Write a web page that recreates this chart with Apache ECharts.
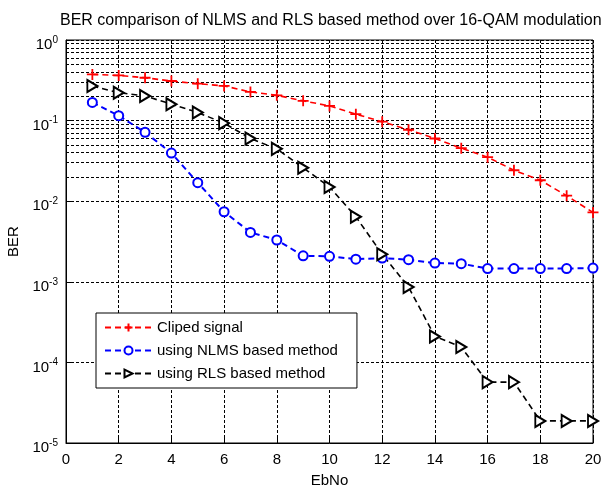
<!DOCTYPE html>
<html><head><meta charset="utf-8">
<script src="https://cdn.jsdelivr.net/npm/echarts@6/dist/echarts.min.js"></script>
<style>html,body{margin:0;padding:0;background:#fff}#c{width:604px;height:488px}</style>
</head><body><div id="c"></div>
<script>
const ebno = [1,2,3,4,5,6,7,8,9,10,11,12,13,14,15,16,17,18,19,20];
const clipped = [0.374,0.363,0.34,0.31,0.287,0.269,0.227,0.206,0.176,0.152,0.12,0.097,0.077,0.060,0.0455,0.0352,0.0242,0.0182,0.0117,0.00726];
const nlms = [0.168,0.115,0.0716,0.0395,0.017,0.0074,0.0041,0.0033,0.0021,0.00207,0.00191,0.00197,0.00188,0.00171,0.00168,0.00146,0.00146,0.00146,0.00146,0.00148];
const rls = [0.269,0.222,0.202,0.16,0.126,0.093,0.060,0.0446,0.026,0.015,0.0064,0.0022,0.00086,0.00021,0.000155,0.0000569,0.0000569,0.0000188,0.0000188,0.0000188];
const seriesNames = ['Cliped signal','using NLMS based method','using RLS based method'];
const xTicks = [0,2,4,6,8,10,12,14,16,18,20];
const yExps = [0,-1,-2,-3,-4,-5];

const minorVals = [];
for (let e = -5; e < 0; e++) for (let m = 2; m <= 9; m++) minorVals.push(m * Math.pow(10, e));

const font = 'Arial, "Liberation Sans", sans-serif';
const clear = 'rgba(0,0,0,0)';
const gridLine = {color:'#000', width:1, type:[3,2]};
const chart = echarts.init(document.getElementById('c'));
const mk = (name, data, color, symbol, size, extra) => Object.assign({
  name, type:'line', data: ebno.map((x,i)=>[x,data[i]]),
  symbol, symbolSize:size, showSymbol:true,
  lineStyle:{color, width:1.6, type:[6,4]},
  itemStyle:{color:clear, borderColor:color, borderWidth:1.8},
  emphasis:{disabled:true}, z:5
}, extra||{});
chart.setOption({
  animation:false,
  title:{text:'BER comparison of NLMS and RLS based method over 16-QAM modulation', left:55, top:8,
    textStyle:{fontFamily:font, fontSize:16, fontWeight:'normal', color:'#000'}},
  grid:{left:66, right:11, top:40, bottom:45, outerBoundsMode:'none', containLabel:false,
    show:true, borderColor:'#000', borderWidth:1, backgroundColor:'#fff'},
  legend:{orient:'vertical', left:96, top:313, backgroundColor:'#fff', borderColor:'#000', borderWidth:1,
    data:seriesNames,
    padding:[7,19,7,8], itemGap:8, itemWidth:47, itemHeight:10,
    textStyle:{fontFamily:font, fontSize:15, color:'#000'}},
  xAxis:{type:'value', min:0, max:20, interval:2, name:'EbNo', nameLocation:'middle', nameGap:30,
    nameTextStyle:{fontFamily:font, fontSize:15, color:'#000'},
    axisLine:{lineStyle:{color:'#000'}}, axisTick:{inside:true, length:5, lineStyle:{color:'#000'}},
    axisLabel:{fontFamily:font, fontSize:15, color:'#000', margin:9, formatter:v=>xTicks.includes(v)?String(v):''},
    splitLine:{show:true, lineStyle:gridLine}},
  yAxis:{type:'log', logBase:10, min:1e-5, max:1, name:'BER', nameLocation:'middle', nameGap:42,
    nameTextStyle:{fontFamily:font, fontSize:15, color:'#000'},
    axisLine:{lineStyle:{color:'#000'}}, axisTick:{inside:true, length:5, lineStyle:{color:'#000'}},
    axisLabel:{fontFamily:font, fontSize:15, color:'#000', margin:8, padding:[10,0,0,0],
      formatter:v=>{const e=Math.round(Math.log10(v)); return yExps.includes(e)?'10{s|'+e+'}':'';},
      rich:{s:{fontSize:10, verticalAlign:'bottom', padding:[0,0,10,0], fontFamily:font, color:'#000'}}},
    splitLine:{show:true, lineStyle:gridLine}},
  series:[
    mk(seriesNames[0], clipped, '#ff0000', 'path://M5,0L5,10M0,5L10,5', 11, {
      markLine:{silent:true, symbol:'none', label:{show:false}, lineStyle:gridLine, animation:false,
        emphasis:{disabled:true}, data:minorVals.map(v=>({yAxis:v}))}, z:6}),
    mk(seriesNames[1], nlms, '#0000ff', 'emptyCircle', 9, {lineStyle:{color:'#0000ff', width:2, type:[6,4]},
      itemStyle:{color:'#0000ff', borderWidth:1.8}}),
    mk(seriesNames[2], rls, '#000000', 'emptyTriangle', [12,10], {symbolRotate:-90,
      itemStyle:{color:'#000000', borderWidth:1.8}})
  ]
});
</script></body></html>
